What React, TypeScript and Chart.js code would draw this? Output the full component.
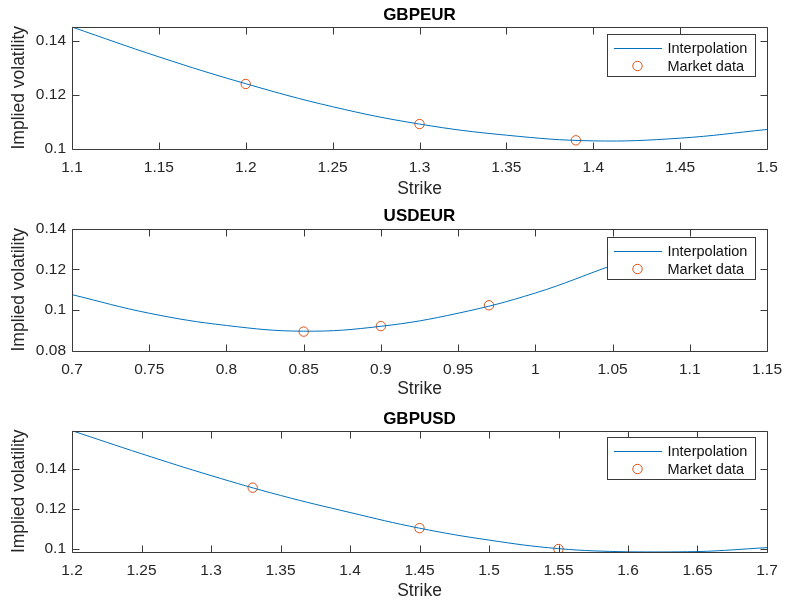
import React, { useEffect, useRef } from 'react';
import { Chart, registerables } from 'chart.js';

Chart.register(...registerables);

const FONT = '"Liberation Sans", Arial, Helvetica, sans-serif';
const BLUE = '#0072BD';
const ORANGE = '#D95319';
const AXIS = '#3a3a3a';

// ---------- GBPEUR ----------
const gbpeurStrikes = [1.1, 1.15, 1.2, 1.25, 1.3, 1.35, 1.4, 1.45, 1.5];
const gbpeurCurve = [0.1450, 0.1340, 0.1241, 0.1156, 0.1092, 0.1051, 0.1030, 0.1040, 0.1072];
const gbpeurMarketStrikes = [1.2, 1.3, 1.39];
const gbpeurMarketVols = [0.1240, 0.1092, 0.1032];
const gbpeurXTicks = [1.1, 1.15, 1.2, 1.25, 1.3, 1.35, 1.4, 1.45, 1.5];
const gbpeurYTicks = [0.1, 0.12, 0.14];

// ---------- USDEUR ----------
const usdeurStrikes = [0.7, 0.75, 0.8, 0.85, 0.9, 0.95, 1.0, 1.05, 1.1];
const usdeurCurve = [0.1076, 0.0985, 0.0925, 0.0897, 0.0921, 0.0985, 0.1084, 0.1220, 0.1350];
const usdeurMarketStrikes = [0.85, 0.9, 0.97];
const usdeurMarketVols = [0.0895, 0.0922, 0.1024];
const usdeurXTicks = [0.7, 0.75, 0.8, 0.85, 0.9, 0.95, 1, 1.05, 1.1, 1.15];
const usdeurYTicks = [0.08, 0.1, 0.12, 0.14];

// ---------- GBPUSD ----------
const gbpusdStrikes = [1.2, 1.25, 1.3, 1.35, 1.4, 1.45, 1.5, 1.55, 1.6, 1.65, 1.7];
const gbpusdCurve = [0.1594, 0.1478, 0.1368, 0.1268, 0.1182, 0.1103, 0.1043, 0.1000, 0.0984, 0.0985, 0.1005];
const gbpusdMarketStrikes = [1.33, 1.45, 1.55];
const gbpusdMarketVols = [0.1307, 0.1103, 0.0998];
const gbpusdXTicks = [1.2, 1.25, 1.3, 1.35, 1.4, 1.45, 1.5, 1.55, 1.6, 1.65, 1.7];
const gbpusdYTicks = [0.1, 0.12, 0.14];

const legendLabels = ['Interpolation', 'Market data'];
const xAxisLabel = 'Strike';
const yAxisLabel = 'Implied volatility';

type Panel = {
  title: string;
  strikes: number[];
  curve: number[];
  mStrikes: number[];
  mVols: number[];
  xTicks: number[];
  yTicks: number[];
  xMin: number; xMax: number; yMin: number; yMax: number;
  top: number; height: number;
  plotTop: number; plotBottom: number;
  titleCenter: number; xLabelCenter: number; legendTop: number;
};

const panels: Panel[] = [
  {
    title: 'GBPEUR', strikes: gbpeurStrikes, curve: gbpeurCurve,
    mStrikes: gbpeurMarketStrikes, mVols: gbpeurMarketVols,
    xTicks: gbpeurXTicks, yTicks: gbpeurYTicks,
    xMin: 1.1, xMax: 1.5, yMin: 0.1, yMax: 0.1452,
    top: 0, height: 200, plotTop: 26.5, plotBottom: 149,
    titleCenter: 15.8, xLabelCenter: 189.5, legendTop: 7.8,
  },
  {
    title: 'USDEUR', strikes: usdeurStrikes, curve: usdeurCurve,
    mStrikes: usdeurMarketStrikes, mVols: usdeurMarketVols,
    xTicks: usdeurXTicks, yTicks: usdeurYTicks,
    xMin: 0.7, xMax: 1.15, yMin: 0.08, yMax: 0.14,
    top: 200, height: 200, plotTop: 28.5, plotBottom: 151,
    titleCenter: 16, xLabelCenter: 190, legendTop: 8.2,
  },
  {
    title: 'GBPUSD', strikes: gbpusdStrikes, curve: gbpusdCurve,
    mStrikes: gbpusdMarketStrikes, mVols: gbpusdMarketVols,
    xTicks: gbpusdXTicks, yTicks: gbpusdYTicks,
    xMin: 1.2, xMax: 1.7, yMin: 0.0983, yMax: 0.1594,
    top: 400, height: 205, plotTop: 30.7, plotBottom: 152,
    titleCenter: 19, xLabelCenter: 191.5, legendTop: 6.6,
  },
];

const PLOT_LEFT = 72;
const PLOT_RIGHT = 767;
const WIDTH = 786;

const boxPlugin = {
  id: 'mbox',
  afterDatasetsDraw(chart: any, _args: any, opts: any) {
    const { ctx, chartArea } = chart;
    const L = Math.round(chartArea.left) + 0.5;
    const R = Math.round(chartArea.right) + 0.5;
    const T = Math.round(chartArea.top) + 0.5;
    const B = Math.round(chartArea.bottom) + 0.5;
    ctx.save();
    ctx.strokeStyle = AXIS;
    ctx.lineWidth = 1;
    ctx.beginPath();
    ctx.rect(L, T, R - L, B - T);
    ctx.stroke();
    const tl = 7;
    const xs = chart.scales.x;
    const ys = chart.scales.y;
    ctx.beginPath();
    xs.ticks.forEach((t: any) => {
      const px = Math.round(xs.getPixelForValue(t.value)) + 0.5;
      ctx.moveTo(px, B); ctx.lineTo(px, B - tl);
      ctx.moveTo(px, T); ctx.lineTo(px, T + tl);
    });
    ys.ticks.forEach((t: any) => {
      const py = Math.round(ys.getPixelForValue(t.value)) + 0.5;
      ctx.moveTo(L, py); ctx.lineTo(L + tl, py);
      ctx.moveTo(R, py); ctx.lineTo(R - tl, py);
    });
    ctx.stroke();

    // legend
    const w = 148, h = 42;
    const x0 = Math.round(chartArea.right - 12 - w);
    const y0 = Math.round(chartArea.top + (opts.legendTop ?? 8));
    ctx.fillStyle = '#ffffff';
    ctx.fillRect(x0, y0, w, h);
    ctx.strokeStyle = AXIS;
    ctx.lineWidth = 1;
    ctx.strokeRect(x0 + 0.5, y0 + 0.5, w, h);
    const ds = chart.data.datasets;
    const r1 = y0 + 14;
    const r2 = y0 + 32;
    ctx.strokeStyle = ds[0].borderColor;
    ctx.lineWidth = 1;
    ctx.beginPath();
    ctx.moveTo(x0 + 7, r1 + 0.5); ctx.lineTo(x0 + 55, r1 + 0.5);
    ctx.stroke();
    ctx.strokeStyle = ds[1].borderColor;
    ctx.lineWidth = 1;
    ctx.beginPath();
    ctx.arc(x0 + 30.5, r2, 4.7, 0, Math.PI * 2);
    ctx.stroke();
    ctx.fillStyle = '#111';
    ctx.font = `14.5px ${FONT}`;
    ctx.textBaseline = 'middle';
    ctx.textAlign = 'left';
    ctx.fillText(ds[0].label, x0 + 60.5, r1 + 0.5);
    ctx.fillText(ds[1].label, x0 + 60.5, r2 + 0.5);
    ctx.restore();
  },
};

function fmt(v: number) {
  return String(Number(v.toFixed(4)));
}

function PanelChart({ p }: { p: Panel }) {
  const ref = useRef<HTMLCanvasElement | null>(null);
  useEffect(() => {
    if (!ref.current) return;
    const titleLH = 17 * 1.2;
    const chart = new Chart(ref.current, {
      type: 'line',
      data: {
        datasets: [
          {
            label: legendLabels[0],
            data: p.strikes.map((s, i) => ({ x: s, y: p.curve[i] })),
            borderColor: BLUE,
            borderWidth: 1,
            pointRadius: 0,
            tension: 0.4,
            fill: false,
          },
          {
            label: legendLabels[1],
            data: p.mStrikes.map((s, i) => ({ x: s, y: p.mVols[i] })),
            showLine: false,
            borderColor: ORANGE,
            backgroundColor: 'rgba(0,0,0,0)',
            pointBorderColor: ORANGE,
            pointBackgroundColor: 'rgba(0,0,0,0)',
            pointRadius: 4.7,
            pointBorderWidth: 1,
            pointStyle: 'circle',
          },
        ],
      },
      options: {
        animation: false,
        responsive: false,
        devicePixelRatio: 1,
        events: [],
        layout: { padding: { left: 0, right: WIDTH - PLOT_RIGHT, top: 0, bottom: 0 } },
        plugins: {
          legend: { display: false },
          tooltip: { enabled: false },
          title: {
            display: true,
            fullSize: false,
            text: p.title,
            color: '#000',
            font: { family: FONT, size: 17, weight: 'bold' },
            padding: {
              top: p.titleCenter - titleLH / 2,
              bottom: Math.max(0, p.plotTop - p.titleCenter - titleLH / 2),
            },
          },
          mbox: { legendTop: p.legendTop },
        } as any,
        scales: {
          x: {
            type: 'linear',
            min: p.xMin,
            max: p.xMax,
            grid: { display: false, drawTicks: false },
            border: { display: false },
            afterBuildTicks: (s: any) => { s.ticks = p.xTicks.map((v) => ({ value: v })); },
            afterFit: (s: any) => {
              s.height = p.height - p.plotBottom;
              s.paddingLeft = 0;
              s.paddingRight = 0;
            },
            ticks: {
              autoSkip: false,
              maxRotation: 0,
              padding: 9,
              color: '#262626',
              font: { family: FONT, size: 15.5 },
              callback: (v: any) => fmt(Number(v)),
            },
            title: {
              display: true,
              text: xAxisLabel,
              color: '#262626',
              font: { family: FONT, size: 17.5 },
              padding: { top: 0, bottom: Math.max(0, p.height - p.xLabelCenter - 10.5) },
            },
          },
          y: {
            type: 'linear',
            min: p.yMin,
            max: p.yMax,
            grid: { display: false, drawTicks: false },
            border: { display: false },
            afterBuildTicks: (s: any) => { s.ticks = p.yTicks.map((v) => ({ value: v })); },
            afterFit: (s: any) => {
              s.width = PLOT_LEFT;
              s.paddingTop = 0;
              s.paddingBottom = 0;
            },
            ticks: {
              autoSkip: false,
              padding: 6,
              color: '#262626',
              font: { family: FONT, size: 15.5 },
              callback: (v: any) => fmt(Number(v)),
            },
            title: {
              display: true,
              text: yAxisLabel,
              color: '#262626',
              font: { family: FONT, size: 17.5 },
              padding: { top: 9, bottom: 0 },
            },
          },
        },
      },
      plugins: [boxPlugin],
    });
    return () => chart.destroy();
  }, [p]);
  return (
    <canvas
      ref={ref}
      width={WIDTH}
      height={p.height}
      style={{ position: 'absolute', left: 0, top: p.top, width: WIDTH, height: p.height }}
    />
  );
}

export default function App() {
  return (
    <div style={{ position: 'absolute', left: 0, top: 0, width: WIDTH, height: 605, background: '#fff', overflow: 'hidden' }}>
      {panels.map((p) => (
        <PanelChart key={p.title} p={p} />
      ))}
    </div>
  );
}
